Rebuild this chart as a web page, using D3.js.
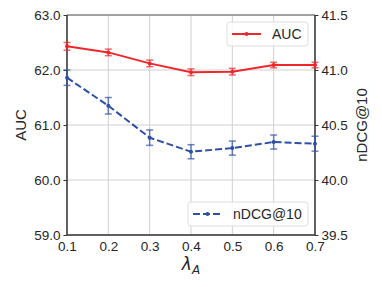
<!DOCTYPE html>
<html>
<head>
<meta charset="utf-8">
<script src="https://cdn.jsdelivr.net/npm/d3@7"></script>
<style>
  body { margin: 0; background: #fff; }
  text { font-family: "Liberation Sans", Arial, sans-serif; fill: #262626; }
</style>
</head>
<body>
<div id="chart"></div>
<script>
// data
let lambdas = [0.1, 0.2, 0.3, 0.4, 0.5, 0.6, 0.7]
let auc = [62.43, 62.32, 62.12, 61.96, 61.97, 62.09, 62.09]
let aucErr = [0.07, 0.06, 0.06, 0.06, 0.06, 0.05, 0.05]
let ndcg = [40.93, 40.675, 40.385, 40.257, 40.29, 40.345, 40.33]
let ndcgErr = [0.07, 0.075, 0.07, 0.064, 0.064, 0.064, 0.068]
let xTicks = [0.1, 0.2, 0.3, 0.4, 0.5, 0.6, 0.7]
let leftTicks = [59, 60, 61, 62, 63]
let rightTicks = [39.5, 40.0, 40.5, 41.0, 41.5]

var margin = { top: 15, right: 67, bottom: 52, left: 67 },
    width = 382 - margin.left - margin.right,
    height = 287 - margin.top - margin.bottom;

var red = "#f0262b", blue = "#2d50a6";

var svg = d3.select("#chart")
    .append("svg")
    .attr("width", 382)
    .attr("height", 287)
    .append("g")
    .attr("transform", "translate(" + margin.left + "," + margin.top + ")");

var x = d3.scaleLinear().domain([0.1, 0.7]).range([0, width]);
var yL = d3.scaleLinear().domain([59, 63]).range([height, 0]);
var yR = d3.scaleLinear().domain([39.5, 41.5]).range([height, 0]);

// grid
svg.selectAll(".vgrid").data(xTicks).enter().append("line")
    .attr("x1", d => x(d)).attr("x2", d => x(d))
    .attr("y1", 0).attr("y2", height)
    .attr("stroke", "#d0d0d0").attr("stroke-width", 1);
svg.selectAll(".hgrid").data(leftTicks).enter().append("line")
    .attr("x1", 0).attr("x2", width)
    .attr("y1", d => yL(d)).attr("y2", d => yL(d))
    .attr("stroke", "#d0d0d0").attr("stroke-width", 1);

// axes
var xAxis = svg.append("g").attr("transform", "translate(0," + height + ")")
    .call(d3.axisBottom(x).tickValues(xTicks).tickFormat(d3.format(".1f")).tickSize(0).tickPadding(6));
var lAxis = svg.append("g")
    .call(d3.axisLeft(yL).tickValues(leftTicks).tickFormat(d3.format(".1f")).tickSize(3.5).tickPadding(3));
var rAxis = svg.append("g").attr("transform", "translate(" + width + ",0)")
    .call(d3.axisRight(yR).tickValues(rightTicks).tickFormat(d3.format(".1f")).tickSize(3.5).tickPadding(3));

[xAxis, lAxis, rAxis].forEach(a => {
    a.select(".domain").remove();
    a.selectAll("text").style("font-size", "13.5px").attr("fill", "#262626");
    a.selectAll("line").attr("stroke", "#333");
});

// spines
svg.append("line").attr("x1", 0).attr("x2", width).attr("y1", 0).attr("y2", 0)
    .attr("stroke", "#8a8a8a").attr("stroke-width", 1.5);
svg.append("line").attr("x1", 0).attr("x2", width).attr("y1", height).attr("y2", height)
    .attr("stroke", "#333").attr("stroke-width", 1.5);
svg.append("line").attr("x1", 0).attr("x2", 0).attr("y1", 0).attr("y2", height)
    .attr("stroke", "#333").attr("stroke-width", 1.5);
svg.append("line").attr("x1", width).attr("x2", width).attr("y1", 0).attr("y2", height)
    .attr("stroke", "#333").attr("stroke-width", 1.5);

function drawSeries(vals, errs, yScale, color, dash) {
    let pts = vals.map((v, i) => ({ x: lambdas[i], y: v, e: errs[i] }));
    let g = svg.append("g");
    // error bars
    g.selectAll(".eb").data(pts).enter().append("line")
        .attr("x1", d => x(d.x)).attr("x2", d => x(d.x))
        .attr("y1", d => yScale(d.y - d.e)).attr("y2", d => yScale(d.y + d.e))
        .attr("stroke", color).attr("stroke-opacity", 0.7).attr("stroke-width", 1.5);
    [-1, 1].forEach(s => {
        g.selectAll(".cap").data(pts).enter().append("line")
            .attr("x1", d => x(d.x) - 3.5).attr("x2", d => x(d.x) + 3.5)
            .attr("y1", d => yScale(d.y + s * d.e)).attr("y2", d => yScale(d.y + s * d.e))
            .attr("stroke", color).attr("stroke-opacity", 0.7).attr("stroke-width", 1.5);
    });
    g.append("path").datum(pts)
        .attr("fill", "none").attr("stroke", color).attr("stroke-width", 2)
        .attr("stroke-dasharray", dash)
        .attr("d", d3.line().x(d => x(d.x)).y(d => yScale(d.y)));
    g.selectAll(".pt").data(pts).enter().append("circle")
        .attr("cx", d => x(d.x)).attr("cy", d => yScale(d.y)).attr("r", 2)
        .attr("fill", color);
}

drawSeries(auc, aucErr, yL, red, null);
drawSeries(ndcg, ndcgErr, yR, blue, "7,3");

// legends
function legend(x0, y0, w, label, color, dash) {
    let g = svg.append("g").attr("transform", "translate(" + x0 + "," + y0 + ")");
    g.append("rect").attr("width", w).attr("height", 24).attr("rx", 3)
        .attr("fill", "#fff").attr("fill-opacity", 0.85)
        .attr("stroke", "#dedede").attr("stroke-width", 1);
    g.append("line").attr("x1", 5).attr("x2", 34).attr("y1", 12).attr("y2", 12)
        .attr("stroke", color).attr("stroke-width", 2).attr("stroke-dasharray", dash);
    g.append("circle").attr("cx", 19.5).attr("cy", 12).attr("r", 2).attr("fill", color);
    g.append("text").attr("x", 45).attr("y", 17).style("font-size", "14px").text(label);
}
legend(227 - margin.left, 22 - margin.top, 81, "AUC", red, null);
legend(188 - margin.left, 202 - margin.top, 120, "nDCG@10", blue, "7,3");

// axis labels
svg.append("text")
    .attr("transform", "translate(" + (-41) + "," + (height / 2) + ") rotate(-90)")
    .attr("text-anchor", "middle").style("font-size", "15px").text("AUC");
svg.append("text")
    .attr("transform", "translate(" + (width + 52) + "," + (height / 2) + ") rotate(-90)")
    .attr("text-anchor", "middle").style("font-size", "15px").text("nDCG@10");

var xl = svg.append("text")
    .attr("x", width / 2).attr("y", height + 35)
    .attr("text-anchor", "middle")
    .style("font-family", "'DejaVu Sans', sans-serif").style("font-style", "italic").style("font-size", "17px");
xl.append("tspan").text("λ");
xl.append("tspan").attr("dy", 4).style("font-size", "12px").text("A");
</script>
</body>
</html>
